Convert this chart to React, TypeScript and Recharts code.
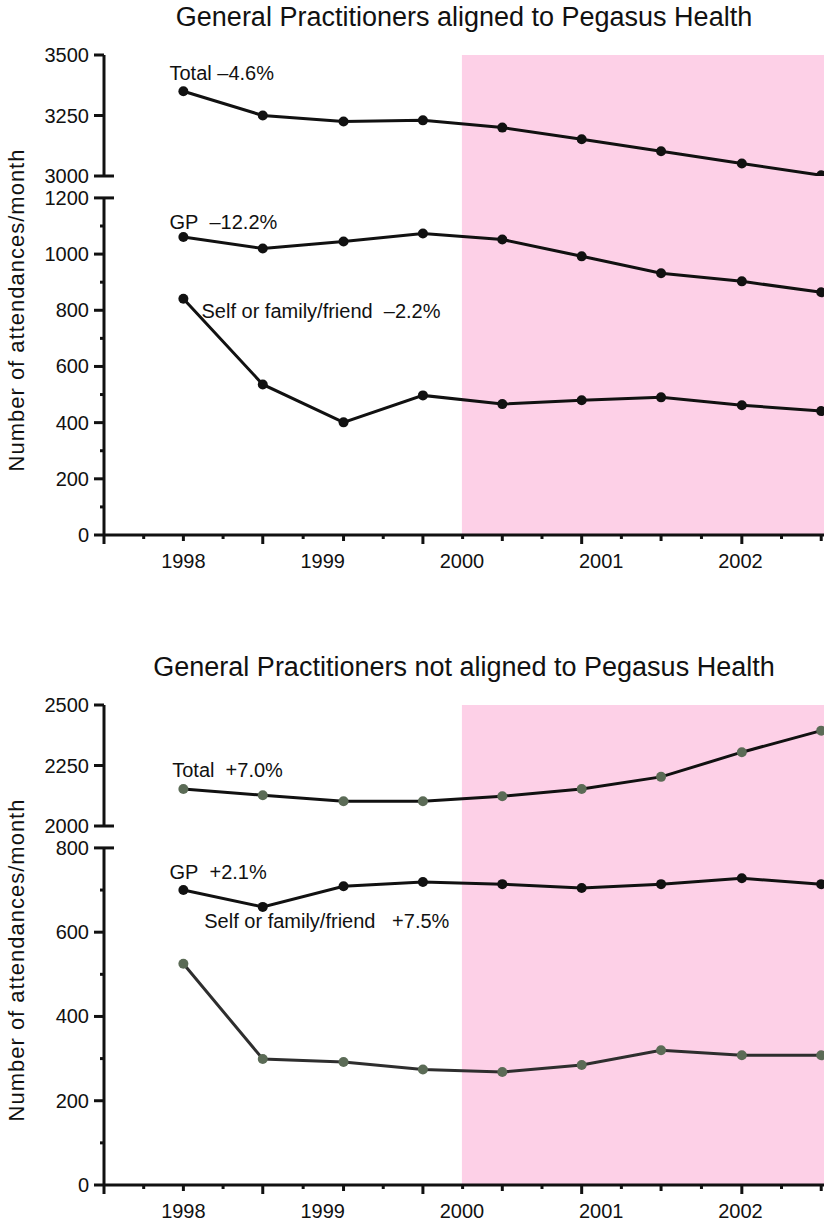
import { LineChart, Line, XAxis, YAxis, ReferenceArea, ReferenceLine, ReferenceDot } from 'recharts'

// time of each observation (years), the shaded period starts in 2000
const periodYears = [1998.0, 1998.57, 1999.15, 1999.72, 2000.29, 2000.86, 2001.43, 2002.01, 2002.58]
const yearLabels = [1998, 1999, 2000, 2001, 2002]
const pegasusStart = 2000

// GPs aligned to Pegasus Health
const alignedTotal = [3350, 3250, 3225, 3230, 3200, 3152, 3102, 3052, 3003]
const alignedGP = [1061, 1020, 1045, 1073, 1052, 992, 932, 903, 864]
const alignedSelf = [841, 536, 401, 497, 466, 480, 490, 462, 441]

// GPs not aligned to Pegasus Health
const notAlignedTotal = [2153, 2127, 2102, 2102, 2123, 2153, 2203, 2305, 2394]
const notAlignedGP = [700, 660, 709, 719, 714, 705, 714, 728, 714]
const notAlignedSelf = [525, 299, 292, 274, 268, 285, 320, 308, 308]

const PINK = '#fdd0e7'
const INK = '#111'
const GREEN = '#5b6b56'
const FONT = '"Liberation Sans", Arial, Helvetica, sans-serif'
const NB = '\u00a0'

const W = 829
const PH = 571
const UPPER_H = 190
const xDomain: [number, number] = [1997.43, 2002.6]

// a tick mark at every observation and half way between them
const markTicks: number[] = [xDomain[0]]
periodYears.forEach((yr, i) => {
  markTicks.push(i > 0 ? (periodYears[i - 1] + yr) / 2 : yr - (periodYears[1] - yr) / 2)
  markTicks.push(yr)
})

const XMark = (props: any) => {
  const { x, y, index } = props
  const len = index % 4 === 0 ? 9 : index % 2 === 0 ? 6 : 4
  return <line x1={x} x2={x} y1={y} y2={y + len} stroke={INK} strokeWidth={3} />
}

const YearTick = (props: any) => {
  const { x, y, payload } = props
  return (
    <text x={x} y={y + 18} textAnchor="middle" dominantBaseline="central" fontSize={20} fill={INK}>
      {payload.value}
    </text>
  )
}

const YTick = (props: any) => {
  const { x, y, payload, labels, breakValue } = props
  const v = payload.value
  const major = labels.includes(v)
  return (
    <g>
      <line
        x1={x - (major ? 10 : 4)}
        x2={v === breakValue ? x + 10 : x}
        y1={y}
        y2={y}
        stroke={INK}
        strokeWidth={3}
      />
      {major && (
        <text x={x - 15} y={y} textAnchor="end" dominantBaseline="central" fontSize={20} fill={INK}>
          {v}
        </text>
      )}
    </g>
  )
}

interface Note {
  text: string
  x: number
  y: number
}

interface PanelProps {
  top: number
  title: string
  total: number[]
  gp: number[]
  self: number[]
  upperDomain: [number, number]
  upperTicks: number[]
  lowerMax: number
  lowerShown: number
  lowerTicks: number[]
  lowerLabels: number[]
  totalDot: string
  selfDot: string
  selfLine: string
  upperNotes: Note[]
  lowerNotes: Note[]
}

const noteLabel = (text: string) => ({
  value: text,
  position: 'right' as const,
  offset: 0,
  fontSize: 20,
  fill: INK,
})

function Panel(p: PanelProps) {
  const rows = periodYears.map((year, i) => ({
    year,
    total: p.total[i],
    gp: p.gp[i],
    self: p.self[i],
  }))

  return (
    <div style={{ position: 'absolute', left: 0, top: p.top, width: W, height: PH }}>
      <div
        style={{
          position: 'absolute',
          left: 64,
          width: 800,
          top: 0,
          lineHeight: '34px',
          textAlign: 'center',
          fontSize: 27,
          color: INK,
        }}
      >
        {p.title}
      </div>
      <div
        style={{
          position: 'absolute',
          left: 17,
          top: 310,
          transform: 'translate(-50%, -50%) rotate(-90deg)',
          whiteSpace: 'nowrap',
          fontSize: 22,
          letterSpacing: '1px',
          color: INK,
        }}
      >
        Number of attendances/month
      </div>

      {/* lower segment of the broken axis */}
      <div style={{ position: 'absolute', left: 0, top: 0 }}>
        <LineChart width={W} height={PH} data={rows} margin={{ top: 176, right: 5, left: 0, bottom: 0 }}>
          <XAxis
            dataKey="year"
            type="number"
            domain={xDomain}
            allowDataOverflow
            ticks={markTicks}
            interval={0}
            height={8}
            tickSize={0}
            tickMargin={0}
            tickLine={false}
            axisLine={{ stroke: INK, strokeWidth: 3 }}
            tick={<XMark />}
          />
          <XAxis
            xAxisId="yr"
            dataKey="year"
            type="number"
            domain={xDomain}
            allowDataOverflow
            ticks={yearLabels}
            interval={0}
            height={28}
            tickSize={0}
            tickMargin={0}
            tickLine={false}
            axisLine={false}
            tick={<YearTick />}
          />
          <YAxis
            type="number"
            domain={[0, p.lowerMax]}
            allowDataOverflow
            ticks={p.lowerTicks}
            interval={0}
            width={104}
            tickSize={0}
            tickMargin={0}
            tickLine={false}
            axisLine={false}
            tick={(t: any) => <YTick {...t} labels={p.lowerLabels} breakValue={p.lowerShown} />}
          />
          <ReferenceArea
            x1={pegasusStart}
            x2={xDomain[1]}
            y1={0}
            y2={p.lowerMax}
            fill={PINK}
            fillOpacity={1}
            stroke="none"
          />
          <ReferenceLine
            segment={[
              { x: xDomain[0], y: 0 },
              { x: xDomain[0], y: p.lowerShown },
            ]}
            stroke={INK}
            strokeWidth={3}
            ifOverflow="visible"
          />
          <Line
            dataKey="gp"
            stroke={INK}
            strokeWidth={3}
            dot={{ r: 5, fill: INK, stroke: INK, strokeWidth: 0 }}
            isAnimationActive={false}
          />
          <Line
            dataKey="self"
            stroke={p.selfLine}
            strokeWidth={3}
            dot={{ r: 5, fill: p.selfDot, stroke: p.selfDot, strokeWidth: 0 }}
            isAnimationActive={false}
          />
          {p.lowerNotes.map((n) => (
            <ReferenceDot key={n.text} x={n.x} y={n.y} r={0} ifOverflow="visible" label={noteLabel(n.text)} />
          ))}
        </LineChart>
      </div>

      {/* upper segment of the broken axis */}
      <div style={{ position: 'absolute', left: 0, top: 0 }}>
        <LineChart width={W} height={UPPER_H} data={rows} margin={{ top: 55, right: 5, left: 0, bottom: UPPER_H - 176 }}>
          <XAxis dataKey="year" type="number" domain={xDomain} allowDataOverflow hide />
          <YAxis
            type="number"
            domain={p.upperDomain}
            allowDataOverflow
            ticks={p.upperTicks}
            interval={0}
            width={104}
            tickSize={0}
            tickMargin={0}
            tickLine={false}
            axisLine={{ stroke: INK, strokeWidth: 3 }}
            tick={(t: any) => <YTick {...t} labels={p.upperTicks} breakValue={p.upperDomain[0]} />}
          />
          <ReferenceArea
            x1={pegasusStart}
            x2={xDomain[1]}
            y1={p.upperDomain[0]}
            y2={p.upperDomain[1]}
            fill={PINK}
            fillOpacity={1}
            stroke="none"
          />
          <Line
            dataKey="total"
            stroke={INK}
            strokeWidth={3}
            dot={{ r: 5, fill: p.totalDot, stroke: p.totalDot, strokeWidth: 0 }}
            isAnimationActive={false}
          />
          {p.upperNotes.map((n) => (
            <ReferenceDot key={n.text} x={n.x} y={n.y} r={0} ifOverflow="visible" label={noteLabel(n.text)} />
          ))}
        </LineChart>
      </div>
    </div>
  )
}

export default function App() {
  return (
    <div style={{ position: 'relative', width: W, height: 1221, fontFamily: FONT, background: '#fff' }}>
      <style>{'body{margin:0}'}</style>
      <Panel
        top={0}
        title="General Practitioners aligned to Pegasus Health"
        total={alignedTotal}
        gp={alignedGP}
        self={alignedSelf}
        upperDomain={[3000, 3500]}
        upperTicks={[3000, 3250, 3500]}
        lowerMax={1278}
        lowerShown={1200}
        lowerTicks={[0, 100, 200, 300, 400, 500, 600, 700, 800, 900, 1000, 1100, 1200]}
        lowerLabels={[0, 200, 400, 600, 800, 1000, 1200]}
        totalDot={INK}
        selfDot={INK}
        selfLine={INK}
        upperNotes={[{ text: `Total${NB}\u20134.6%`, x: 1997.9, y: 3426 }]}
        lowerNotes={[
          { text: `GP${NB}${NB}\u201312.2%`, x: 1997.9, y: 1115 },
          { text: `Self${NB}or${NB}family/friend${NB}${NB}\u20132.2%`, x: 1998.13, y: 798 },
        ]}
      />
      <Panel
        top={650}
        title="General Practitioners not aligned to Pegasus Health"
        total={notAlignedTotal}
        gp={notAlignedGP}
        self={notAlignedSelf}
        upperDomain={[2000, 2500]}
        upperTicks={[2000, 2250, 2500]}
        lowerMax={852}
        lowerShown={800}
        lowerTicks={[0, 100, 200, 300, 400, 500, 600, 700, 800]}
        lowerLabels={[0, 200, 400, 600, 800]}
        totalDot={GREEN}
        selfDot={GREEN}
        selfLine="#2e2e2e"
        upperNotes={[{ text: `Total${NB}${NB}+7.0%`, x: 1997.92, y: 2233 }]}
        lowerNotes={[
          { text: `GP${NB}${NB}+2.1%`, x: 1997.9, y: 743 },
          { text: `Self${NB}or${NB}family/friend${NB}${NB}${NB}+7.5%`, x: 1998.15, y: 626 },
        ]}
      />
    </div>
  )
}
